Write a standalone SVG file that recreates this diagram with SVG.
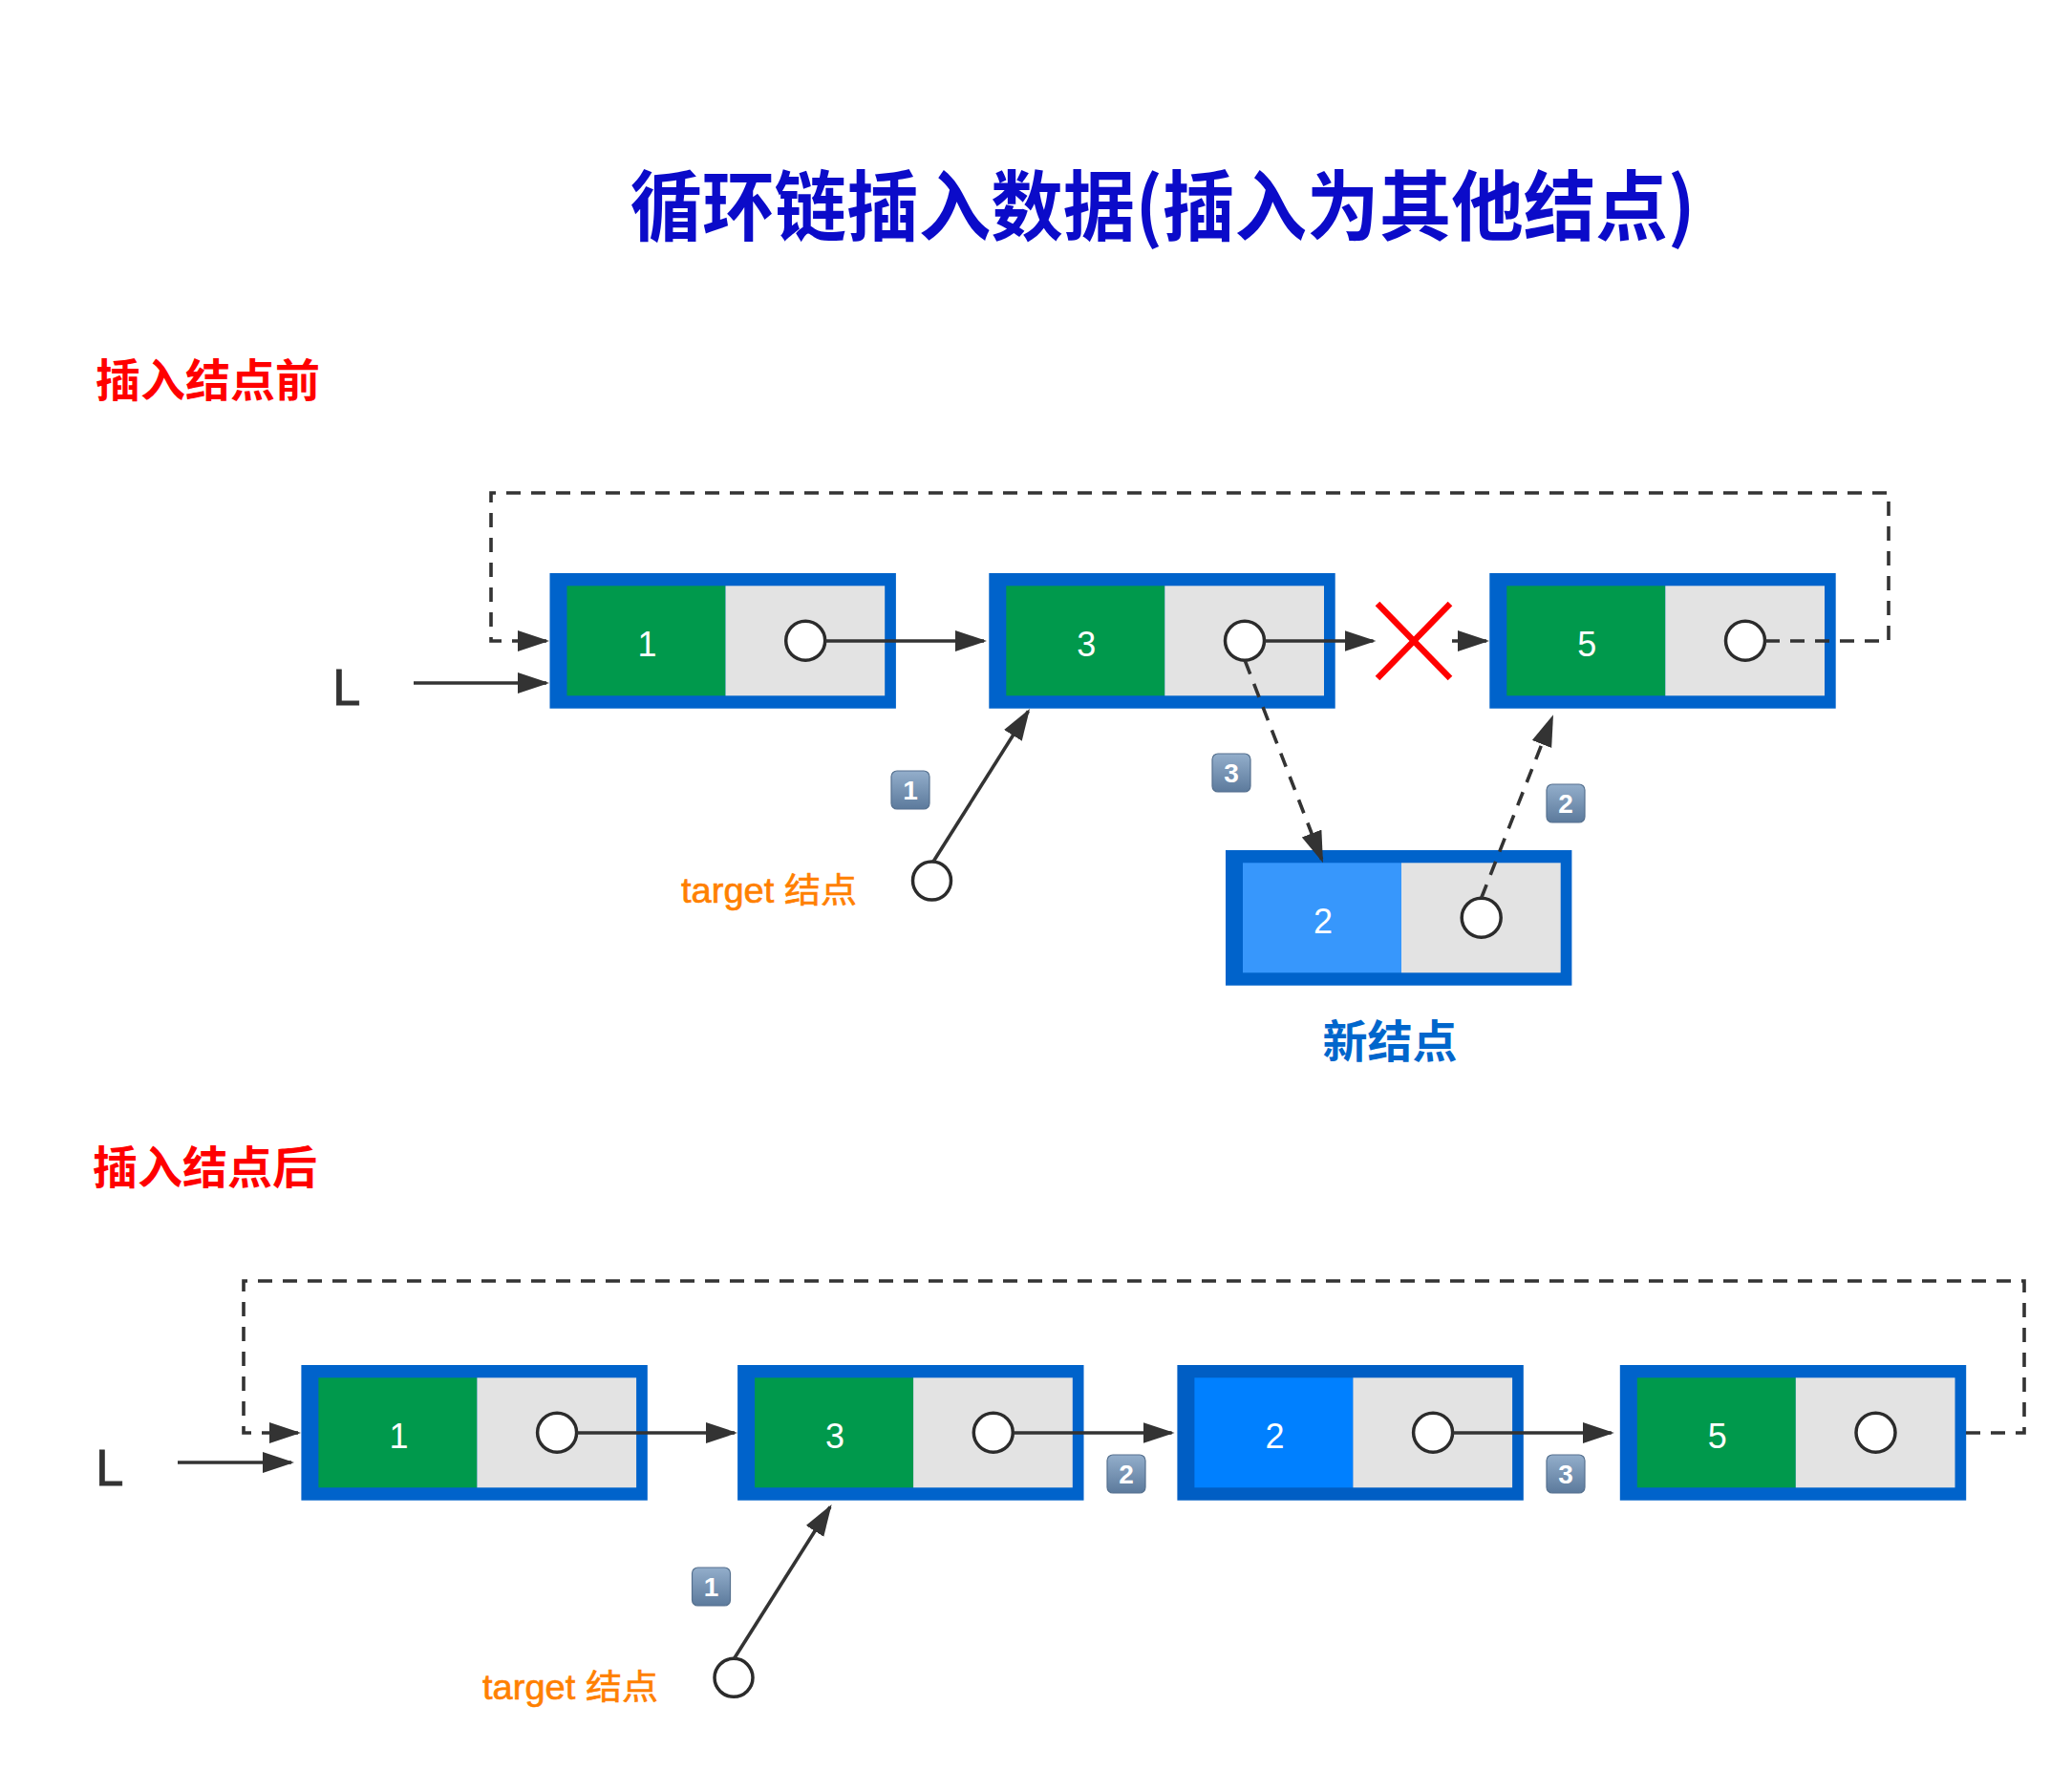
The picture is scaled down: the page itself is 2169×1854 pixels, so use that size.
<svg xmlns="http://www.w3.org/2000/svg" width="2169" height="1854" viewBox="0 0 2169 1854">
<style>
.frame{fill:#0063CB}
.data{fill:#00994C}
.ptr{fill:#E3E3E3}
.hole{fill:#FFFFFF;stroke:#2B2B2B;stroke-width:3.5}
.num{font-family:"Liberation Sans",Arial,sans-serif;font-size:36px;fill:#FFFFFF;text-anchor:middle}
.line{fill:none;stroke:#333333;stroke-width:3.6}
.dash{fill:none;stroke:#333333;stroke-width:3.6;stroke-dasharray:15 11}
.sec{font-family:"Noto Sans CJK SC",sans-serif;font-size:47px;font-weight:bold;fill:#FF0000}
.tgt{font-family:"Liberation Sans","Noto Sans CJK SC",sans-serif;font-size:36px;fill:#FF8000;stroke:#FF8000;stroke-width:0.6}
.L{font-family:"Liberation Sans",Arial,sans-serif;font-size:53px;fill:#333333;stroke:#333333;stroke-width:0.8}
.badge-box{fill:url(#bg);stroke:#56718F;stroke-width:1.2}
.badge-txt{font-family:"Liberation Sans",Arial,sans-serif;font-size:28px;font-weight:bold;fill:#FFFFFF;text-anchor:middle}
</style>
<defs>
<marker id="ah" markerUnits="userSpaceOnUse" markerWidth="34" markerHeight="24" refX="30" refY="11" orient="auto">
<path d="M0,0 L33,11 L0,22 z" fill="#333333"/>
</marker>
<linearGradient id="bg" x1="0" y1="0" x2="0" y2="1">
<stop offset="0" stop-color="#93AECB"/>
<stop offset="1" stop-color="#5C7A9C"/>
</linearGradient>
</defs>
<rect x="0" y="0" width="2169" height="1854" fill="#FFFFFF"/>

<text id="title" x="1217" y="245" font-family="'Noto Sans CJK SC',sans-serif" font-size="80" font-weight="bold" fill="#0B0BC9" text-anchor="middle" textLength="1115" lengthAdjust="spacingAndGlyphs">循环链插入数据(插入为其他结点)</text>
<text id="label-before" class="sec" x="100" y="415">插入结点前</text>
<text id="label-after" class="sec" x="97" y="1239">插入结点后</text>

<!-- top section nodes -->
<g id="top-node-1" transform="translate(575.5,600)">
<rect class="frame" width="362.4" height="141.7"/>
<rect class="data" x="18" y="13.3" width="166" height="115"/>
<rect class="ptr" x="184" y="13.3" width="166.7" height="115"/>
<text class="num" x="102" y="87">1</text>
<circle class="hole" cx="267.7" cy="70.7" r="20.5"/>
</g>
<g id="top-node-3" transform="translate(1035.3,600)">
<rect class="frame" width="362.4" height="141.7"/>
<rect class="data" x="18" y="13.3" width="166" height="115"/>
<rect class="ptr" x="184" y="13.3" width="166.7" height="115"/>
<text class="num" x="102" y="87">3</text>
<circle class="hole" cx="267.7" cy="70.7" r="20.5"/>
</g>
<g id="top-node-5" transform="translate(1559.3,600)">
<rect class="frame" width="362.4" height="141.7"/>
<rect class="data" x="18" y="13.3" width="166" height="115"/>
<rect class="ptr" x="184" y="13.3" width="166.7" height="115"/>
<text class="num" x="102" y="87">5</text>
<circle class="hole" cx="267.7" cy="70.7" r="20.5"/>
</g>
<g id="new-node-2" transform="translate(1283,890)">
<rect class="frame" width="362.4" height="141.7"/>
<rect x="18" y="13.3" width="166" height="115" fill="#3797FC"/>
<rect class="ptr" x="184" y="13.3" width="166.7" height="115"/>
<text class="num" x="102" y="87">2</text>
<circle class="hole" cx="267.7" cy="70.7" r="20.5"/>
</g>
<text id="new-node-label" x="1455" y="1107" font-family="'Noto Sans CJK SC',sans-serif" font-size="47" font-weight="bold" fill="#0066CC" text-anchor="middle">新结点</text>
<g id="top-L"><text class="L" x="348" y="738">L</text></g>
<g id="top-target">
<circle class="hole" cx="975.5" cy="922" r="20"/>
<text class="tgt" x="713" y="945" textLength="184" lengthAdjust="spacingAndGlyphs">target 结点</text>
</g>
<g id="cross" stroke="#FF0000" stroke-width="6.5" fill="none">
<line x1="1442" y1="632" x2="1518" y2="710"/>
<line x1="1518" y1="632" x2="1442" y2="710"/>
</g>

<!-- bottom section nodes -->
<g id="bottom-node-1" transform="translate(315.4,1429)">
<rect class="frame" width="362.4" height="141.7"/>
<rect class="data" x="18" y="13.3" width="166" height="115"/>
<rect class="ptr" x="184" y="13.3" width="166.7" height="115"/>
<text class="num" x="102" y="87">1</text>
<circle class="hole" cx="267.7" cy="70.7" r="20.5"/>
</g>
<g id="bottom-node-3" transform="translate(772.1,1429)">
<rect class="frame" width="362.4" height="141.7"/>
<rect class="data" x="18" y="13.3" width="166" height="115"/>
<rect class="ptr" x="184" y="13.3" width="166.7" height="115"/>
<text class="num" x="102" y="87">3</text>
<circle class="hole" cx="267.7" cy="70.7" r="20.5"/>
</g>
<g id="bottom-node-2" transform="translate(1232.4,1429)">
<rect width="362.4" height="141.7" fill="#005EC4"/>
<rect x="18" y="13.3" width="166" height="115" fill="#0080FF"/>
<rect class="ptr" x="184" y="13.3" width="166.7" height="115"/>
<text class="num" x="102" y="87">2</text>
<circle class="hole" cx="267.7" cy="70.7" r="20.5"/>
</g>
<g id="bottom-node-5" transform="translate(1695.8,1429)">
<rect class="frame" width="362.4" height="141.7"/>
<rect class="data" x="18" y="13.3" width="166" height="115"/>
<rect class="ptr" x="184" y="13.3" width="166.7" height="115"/>
<text class="num" x="102" y="87">5</text>
<circle class="hole" cx="267.7" cy="70.7" r="20.5"/>
</g>
<g id="bottom-L"><text class="L" x="100" y="1555">L</text></g>
<g id="bottom-target">
<circle class="hole" cx="768" cy="1756.3" r="20"/>
<text class="tgt" x="505" y="1779" textLength="184" lengthAdjust="spacingAndGlyphs">target 结点</text>
</g>

<!-- connectors -->
<g id="connectors">
<path class="line" d="M433,715 H572" marker-end="url(#ah)"/>
<path class="dash" d="M1848,671 H1977 V516 H514 V671 H572" marker-end="url(#ah)"/>
<path class="line" d="M864,671 H1030" marker-end="url(#ah)"/>
<path class="line" d="M1324,671 H1437.5" marker-end="url(#ah)"/>
<path class="line" d="M1520,671 H1556" marker-end="url(#ah)"/>
<path class="line" d="M977,902 L1076.4,744.5" marker-end="url(#ah)"/>
<path class="dash" d="M1303.3,691.7 L1383.9,900.5" marker-end="url(#ah)"/>
<path class="dash" d="M1550.7,940 L1624.9,751.1" marker-end="url(#ah)"/>

<path class="line" d="M186,1531 H305" marker-end="url(#ah)"/>
<path class="dash" d="M2058,1500 H2119 V1341 H255 V1500 H312" marker-end="url(#ah)"/>
<path class="line" d="M604,1500 H769" marker-end="url(#ah)"/>
<path class="line" d="M1061,1500 H1226.6" marker-end="url(#ah)"/>
<path class="line" d="M1521,1500 H1686.8" marker-end="url(#ah)"/>
<path class="line" d="M768.7,1736 L869,1577.5" marker-end="url(#ah)"/>
</g>

<!-- step badges -->
<g id="badge-top-1"><rect class="badge-box" x="933" y="807" width="40" height="40" rx="6"/><text class="badge-txt" x="953" y="837">1</text></g>
<g id="badge-top-3"><rect class="badge-box" x="1269" y="789" width="40" height="40" rx="6"/><text class="badge-txt" x="1289" y="819">3</text></g>
<g id="badge-top-2"><rect class="badge-box" x="1619" y="821" width="40" height="40" rx="6"/><text class="badge-txt" x="1639" y="851">2</text></g>
<g id="badge-bottom-1"><rect class="badge-box" x="724.5" y="1641" width="40" height="40" rx="6"/><text class="badge-txt" x="744.5" y="1671">1</text></g>
<g id="badge-bottom-2"><rect class="badge-box" x="1159" y="1523" width="40" height="40" rx="6"/><text class="badge-txt" x="1179" y="1553">2</text></g>
<g id="badge-bottom-3"><rect class="badge-box" x="1619" y="1523" width="40" height="40" rx="6"/><text class="badge-txt" x="1639" y="1553">3</text></g>
</svg>
